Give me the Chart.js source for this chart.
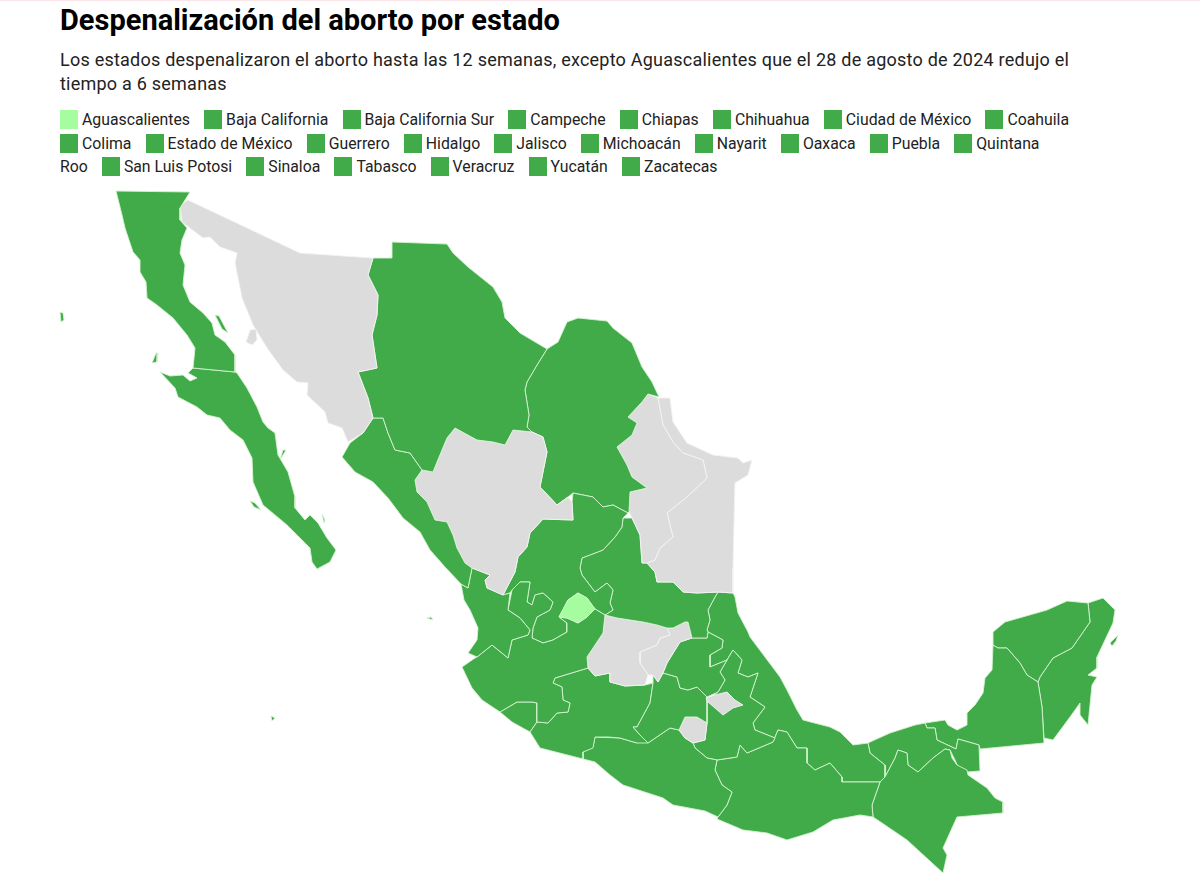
<!DOCTYPE html>
<html lang="es">
<head>
<meta charset="utf-8">
<title>Despenalización del aborto por estado</title>
<script src="https://cdn.jsdelivr.net/npm/chart.js@4"></script>
<style>
  html, body { margin: 0; padding: 0; background: #fff; }
  body { width: 1200px; height: 882px; overflow: hidden; font-family: Roboto, sans-serif; color: #222; position: relative; }
  #linea { height: 1px; background: #fbe6ea; }
  h1 { position: absolute; left: 60px; top: 2px; margin: 0; font-size: 29px; line-height: 36px; font-weight: 700; color: #000; }
  #sub { position: absolute; left: 60px; top: 48px; width: 1030px; margin: 0; font-size: 18px; line-height: 24px; letter-spacing: .23px; }
  #leyenda { position: absolute; left: 60px; top: 108px; width: 1021px; font-size: 15.8px; line-height: 23.6px; }
  #leyenda i { display: inline-block; width: 18px; height: 19px; margin-right: 4px; vertical-align: -4px; }
  #leyenda span { margin-right: 10.2px; }
  #leyenda b { font-weight: 400; white-space: nowrap; }
  #mapa { position: absolute; left: 0; top: 185px; }
</style>
</head>
<body>
<div id="linea"></div>
<h1>Despenalización del aborto por estado</h1>
<p id="sub">Los estados despenalizaron el aborto hasta las 12 semanas, excepto Aguascalientes que el 28 de agosto de 2024 redujo el tiempo a 6 semanas</p>
<div id="leyenda"></div>
<canvas id="mapa" width="1200" height="697"></canvas>
<script>
// Estados que aparecen en la leyenda
var estadosLeyenda = ["Aguascalientes", "Baja California", "Baja California Sur", "Campeche", "Chiapas", "Chihuahua", "Ciudad de México", "Coahuila", "Colima", "Estado de México", "Guerrero", "Hidalgo", "Jalisco", "Michoacán", "Nayarit", "Oaxaca", "Puebla", "Quintana Roo", "San Luis Potosi", "Sinaloa", "Tabasco", "Veracruz", "Yucatán", "Zacatecas"];
var semanasLeyenda = [6, 12, 12, 12, 12, 12, 12, 12, 12, 12, 12, 12, 12, 12, 12, 12, 12, 12, 12, 12, 12, 12, 12, 12];

var aguascalientes = [[578,593],[587,598],[595,609],[587,617],[578,623],[567,618],[559,617],[568,600]];
var bajaCalifornia = [[116,191],[190,192],[180,208],[180,220],[187,228],[182,240],[180,253],[185,265],[183,285],[190,302],[203,313],[212,323],[215,335],[225,342],[235,355],[235,372],[193,368],[195,348],[187,335],[173,318],[157,305],[147,298],[146,282],[140,272],[140,260],[133,252],[125,228],[122,215]];
var bajaCaliforniaSur = [[235,372],[237,373],[247,388],[257,407],[263,422],[268,428],[275,433],[278,455],[288,472],[295,497],[295,508],[305,520],[310,515],[318,523],[327,538],[336,550],[330,562],[317,569],[312,562],[310,548],[287,525],[263,505],[253,482],[252,458],[243,440],[230,430],[220,418],[207,415],[197,407],[178,397],[175,388],[160,372],[170,376],[183,375],[190,381],[197,378],[188,373],[193,368]];
var sonora = [[188,200],[300,253],[373,258],[368,275],[378,295],[377,315],[372,335],[377,368],[358,372],[368,398],[373,418],[363,433],[348,442],[342,428],[328,423],[325,412],[307,395],[308,383],[297,382],[283,370],[267,348],[253,325],[242,298],[235,263],[237,253],[220,247],[210,237],[203,238],[182,222],[180,205]];
var chihuahua = [[392,242],[447,244],[453,253],[468,267],[493,287],[502,302],[505,318],[520,333],[547,349],[537,365],[527,382],[525,390],[529,415],[527,427],[532,432],[513,430],[505,445],[493,442],[477,440],[455,428],[447,438],[437,462],[433,472],[422,470],[410,453],[395,450],[388,433],[383,418],[373,418],[368,398],[358,372],[377,368],[372,335],[377,315],[378,295],[368,275],[373,258],[392,258]];
var sinaloa = [[373,418],[383,418],[388,433],[395,450],[410,453],[422,470],[415,480],[417,492],[427,502],[435,520],[447,522],[453,535],[457,548],[465,563],[472,568],[468,588],[461,584],[445,567],[430,550],[420,532],[403,518],[388,498],[373,482],[355,472],[342,457],[350,443],[363,433]];
var durango = [[415,480],[422,470],[433,472],[437,462],[447,438],[455,428],[477,440],[493,442],[505,445],[513,430],[532,432],[543,437],[547,452],[542,477],[540,487],[557,505],[568,497],[572,502],[573,520],[543,519],[530,533],[527,547],[518,557],[515,572],[503,595],[487,588],[485,580],[490,575],[472,568],[465,563],[457,548],[453,535],[447,522],[435,520],[427,502],[417,492]];
var nayarit = [[472,568],[490,575],[485,580],[487,588],[503,595],[510,593],[508,610],[520,618],[530,630],[528,635],[512,640],[508,658],[492,645],[477,657],[468,653],[477,640],[478,628],[470,610],[464,600],[461,584],[468,588]];
var jalisco = [[475,658],[477,657],[492,645],[508,658],[512,640],[528,635],[530,630],[520,618],[508,610],[512,590],[520,582],[530,582],[527,602],[532,605],[535,595],[543,593],[553,602],[550,610],[537,617],[533,628],[532,638],[543,643],[553,640],[567,632],[567,623],[559,617],[567,618],[578,623],[587,617],[595,609],[605,615],[603,633],[587,657],[588,668],[555,678],[553,683],[562,687],[563,700],[570,703],[568,712],[557,713],[548,723],[537,722],[537,703],[532,702],[517,702],[500,712],[482,700],[472,688],[462,667]];
var zacatecas = [[543,519],[573,520],[572,502],[573,493],[593,497],[603,507],[613,505],[628,513],[623,518],[622,527],[615,537],[603,550],[582,558],[580,568],[582,575],[595,592],[607,583],[613,590],[610,603],[613,610],[605,615],[595,609],[587,598],[578,593],[568,600],[559,617],[567,623],[567,632],[553,640],[543,643],[532,638],[533,628],[537,617],[550,610],[553,602],[543,593],[535,595],[532,605],[527,602],[530,582],[520,582],[512,590],[510,593],[503,595],[515,572],[518,557],[527,547],[530,533]];
var coahuila = [[547,349],[558,342],[567,322],[578,318],[607,321],[613,328],[632,343],[642,367],[652,382],[659,397],[648,394],[642,402],[628,417],[637,423],[632,435],[617,447],[627,465],[632,477],[647,488],[630,492],[629,512],[628,513],[613,505],[603,507],[593,497],[573,493],[568,497],[557,505],[540,487],[542,477],[547,452],[543,437],[532,432],[527,427],[529,415],[525,390],[527,382],[537,365]];
var nuevoLeon = [[648,394],[658,398],[663,425],[673,442],[683,453],[703,460],[707,478],[687,497],[667,513],[673,537],[660,548],[655,560],[647,563],[642,563],[640,535],[632,518],[629,512],[630,492],[647,488],[632,477],[627,465],[617,447],[632,435],[637,423],[628,417],[642,402]];
var tamaulipas = [[658,398],[670,398],[673,422],[687,443],[713,455],[738,458],[743,463],[752,460],[748,475],[735,483],[733,568],[733,593],[718,592],[697,593],[683,592],[673,582],[657,582],[655,572],[647,563],[655,560],[660,548],[673,537],[667,513],[687,497],[707,478],[703,460],[683,453],[673,442],[663,425]];
var sanLuisPotosi = [[632,518],[640,535],[642,563],[647,563],[655,572],[657,582],[673,582],[683,592],[697,593],[718,592],[715,597],[708,610],[710,620],[707,630],[708,632],[707,638],[692,638],[688,622],[685,622],[673,628],[667,628],[657,625],[643,622],[630,620],[617,618],[605,615],[613,610],[610,603],[613,590],[607,583],[595,592],[582,575],[580,568],[582,558],[603,550],[615,537],[622,527],[623,518]];
var guanajuato = [[605,615],[617,618],[630,620],[643,622],[657,625],[667,628],[670,635],[660,638],[657,645],[640,652],[640,663],[648,675],[645,685],[625,686],[610,682],[610,673],[595,676],[588,668],[587,657],[603,633]];
var queretaro = [[670,635],[667,628],[673,628],[685,622],[688,622],[692,638],[680,642],[667,663],[663,673],[658,682],[653,675],[648,675],[640,663],[640,652],[657,645],[660,638]];
var hidalgo = [[692,638],[707,638],[708,632],[723,640],[722,648],[710,655],[710,667],[727,660],[720,672],[725,680],[718,692],[707,697],[697,687],[688,690],[680,688],[677,677],[663,673],[667,663],[680,642]];
var tlaxcala = [[706,698],[715,695],[727,692],[735,700],[743,705],[733,708],[723,715],[715,708],[708,702]];
var morelos = [[679,730],[685,717],[697,717],[707,723],[705,740],[693,743],[685,738]];
var ciudadDeMexico = [[683,717],[685,703],[692,698],[697,710],[697,717]];
var estadoDeMexico = [[653,675],[658,682],[663,673],[677,677],[680,688],[688,690],[697,687],[707,697],[707,723],[697,717],[685,717],[679,730],[670,728],[648,743],[640,735],[633,727],[637,727],[650,703],[653,683]];
var michoacan = [[588,668],[595,676],[610,673],[610,682],[625,686],[645,685],[653,683],[650,703],[637,727],[633,727],[640,735],[648,743],[637,743],[620,738],[608,737],[595,737],[593,748],[583,752],[583,759],[540,748],[530,732],[537,722],[548,723],[557,713],[568,712],[570,703],[563,700],[562,687],[553,683],[555,678]];
var colima = [[500,712],[517,702],[532,702],[537,703],[537,722],[530,732],[512,722]];
var guerrero = [[583,759],[583,752],[593,747],[595,737],[620,738],[637,743],[632,727],[640,735],[648,743],[670,728],[679,730],[685,738],[693,743],[695,748],[707,758],[717,760],[715,770],[722,785],[732,792],[727,805],[718,817],[705,811],[673,805],[663,798],[623,785],[610,775],[595,762]];
var puebla = [[727,660],[733,650],[742,660],[738,673],[748,677],[758,673],[750,697],[765,707],[753,723],[755,730],[775,738],[773,742],[747,753],[740,745],[737,757],[717,760],[707,758],[695,748],[693,743],[705,740],[707,723],[707,700],[718,692],[725,680],[720,672]];
var oaxaca = [[717,760],[737,757],[740,745],[747,753],[773,742],[778,730],[787,732],[797,748],[807,748],[807,763],[815,770],[830,763],[842,777],[842,782],[880,782],[872,805],[873,817],[860,815],[833,820],[813,832],[787,840],[767,833],[743,830],[717,819],[718,817],[727,805],[732,792],[722,785],[715,770]];
var chiapas = [[880,782],[885,777],[895,758],[898,750],[907,753],[908,765],[918,772],[933,758],[945,749],[950,750],[952,758],[957,765],[967,770],[968,775],[987,788],[995,798],[1003,802],[1003,813],[957,817],[943,848],[947,855],[943,873],[907,840],[882,823],[873,817],[872,805]];
var veracruz = [[718,592],[733,593],[735,597],[738,613],[748,632],[750,637],[780,677],[787,690],[797,710],[803,720],[830,727],[840,732],[853,745],[868,743],[870,753],[885,765],[885,777],[880,782],[842,782],[842,777],[830,763],[815,770],[807,763],[807,748],[797,748],[787,732],[778,730],[773,742],[775,738],[755,730],[753,723],[765,707],[750,697],[758,673],[748,677],[738,673],[742,660],[733,650],[727,660],[710,667],[710,655],[722,648],[723,640],[708,632],[707,630],[710,620],[708,610],[715,597]];
var tabasco = [[868,743],[870,753],[885,765],[885,777],[895,758],[898,750],[907,753],[908,765],[918,772],[933,758],[945,749],[950,750],[955,760],[958,767],[967,772],[980,771],[979,745],[958,739],[956,749],[937,740],[935,728],[927,728],[925,723],[915,725],[890,733],[870,742]];
var campeche = [[925,723],[945,720],[948,725],[957,730],[967,725],[967,713],[975,705],[983,693],[985,678],[992,670],[993,645],[998,648],[1007,648],[1020,663],[1027,675],[1038,682],[1042,707],[1044,743],[980,749],[979,745],[958,739],[956,749],[937,740],[935,728],[927,728]];
var yucatan = [[993,645],[993,632],[1005,622],[1047,610],[1067,601],[1088,603],[1090,622],[1072,648],[1053,658],[1040,677],[1038,682],[1027,675],[1020,663],[1007,648],[998,648]];
var quintanaRoo = [[1088,603],[1103,598],[1115,610],[1113,623],[1097,657],[1097,668],[1088,675],[1097,677],[1092,685],[1088,725],[1080,715],[1080,703],[1070,717],[1053,740],[1044,738],[1042,707],[1038,682],[1040,677],[1053,658],[1072,648],[1090,622]];

// Islas
var islaGuadalupe = [[60,312],[63,313],[64,320],[61,322]];
var islaCedros = [[156,353],[158,353],[157,362],[152,363]];
var islaAngel = [[215,315],[219,316],[228,333],[222,329]];
var islaMargarita = [[250,501],[255,503],[261,510],[254,507]];
var islaCarmen = [[283,450],[286,450],[280,460]];
var islaCerralvo = [[322,514],[325,520],[324,523]];
var islasMarias = [[427,618],[431,617],[433,620]];
var islaSocorro = [[271,716],[275,718],[272,721]];
var islaCozumel = [[1110,643],[1118,635],[1116,641],[1112,646]];
var islaTiburon = [[250,330],[256,329],[257,340],[252,345],[246,342]];

var contornos = [aguascalientes, bajaCalifornia, bajaCaliforniaSur, sonora, chihuahua, sinaloa, durango, nayarit, jalisco, zacatecas, coahuila, nuevoLeon, tamaulipas, sanLuisPotosi, guanajuato, queretaro, hidalgo, tlaxcala, estadoDeMexico, morelos, ciudadDeMexico, michoacan, colima, guerrero, puebla, oaxaca, chiapas, veracruz, tabasco, campeche, yucatan, quintanaRoo, islaGuadalupe, islaCedros, islaAngel, islaMargarita, islaCarmen, islaCerralvo, islasMarias, islaSocorro, islaCozumel, islaTiburon];
var nombres = ["Aguascalientes", "Baja California", "Baja California Sur", "Sonora", "Chihuahua", "Sinaloa", "Durango", "Nayarit", "Jalisco", "Zacatecas", "Coahuila", "Nuevo León", "Tamaulipas", "San Luis Potosi", "Guanajuato", "Querétaro", "Hidalgo", "Tlaxcala", "Estado de México", "Morelos", "Ciudad de México", "Michoacán", "Colima", "Guerrero", "Puebla", "Oaxaca", "Chiapas", "Veracruz", "Tabasco", "Campeche", "Yucatán", "Quintana Roo", "Baja California", "Baja California", "Baja California", "Baja California Sur", "Baja California Sur", "Baja California Sur", "Nayarit", "Colima", "Quintana Roo", "Sonora"];
// Semanas permitidas, 0 = sin despenalizar
var semanas = [6, 12, 12, 0, 12, 12, 0, 12, 12, 12, 12, 0, 0, 12, 0, 0, 12, 0, 12, 0, 12, 12, 12, 12, 12, 12, 12, 12, 12, 12, 12, 12, 12, 12, 12, 12, 12, 12, 12, 12, 12, 0];

function colorDe(s) {
  if (s === 6) return "#a5fd9f";
  if (s === 12) return "#41ab49";
  return "#dcdcdc";
}

// Leyenda en HTML porque corta "Quintana Roo" entre dos lineas
var leyenda = document.getElementById("leyenda");
estadosLeyenda.forEach(function(estado, i) {
  var palabras = estado.split(" ");
  var item = document.createElement("span");
  var inicio = document.createElement("b"); // el cuadro no se separa de la primera palabra
  var cuadro = document.createElement("i");
  cuadro.style.background = colorDe(semanasLeyenda[i]);
  inicio.appendChild(cuadro);
  inicio.appendChild(document.createTextNode(palabras[0]));
  item.appendChild(inicio);
  if (palabras.length > 1) {
    item.appendChild(document.createTextNode(" " + palabras.slice(1).join(" ")));
  }
  leyenda.appendChild(item);
  leyenda.appendChild(document.createTextNode(" "));
});

var datasets = contornos.map(function(contorno, i) {
  var puntos = contorno.concat([contorno[0]]).map(function(p) { return { x: p[0], y: p[1] }; });
  return {
    label: nombres[i],
    data: puntos,
    showLine: true,
    fill: "shape",
    tension: 0,
    pointRadius: 0,
    pointHitRadius: 0,
    borderWidth: 0.9,
    borderColor: semanas[i] === 0 ? "#f4f4f4" : "#d5f3d0",
    backgroundColor: colorDe(semanas[i])
  };
});

new Chart(document.getElementById("mapa").getContext("2d"), {
  type: "scatter",
  data: { datasets: datasets },
  options: {
    responsive: false,
    animation: false,
    layout: { padding: 0 },
    plugins: { legend: { display: false }, tooltip: { enabled: false } },
    scales: {
      x: { type: "linear", min: 0, max: 1200, display: false },
      y: { type: "linear", min: 185, max: 882, reverse: true, display: false }
    }
  }
});
</script>
</body>
</html>
